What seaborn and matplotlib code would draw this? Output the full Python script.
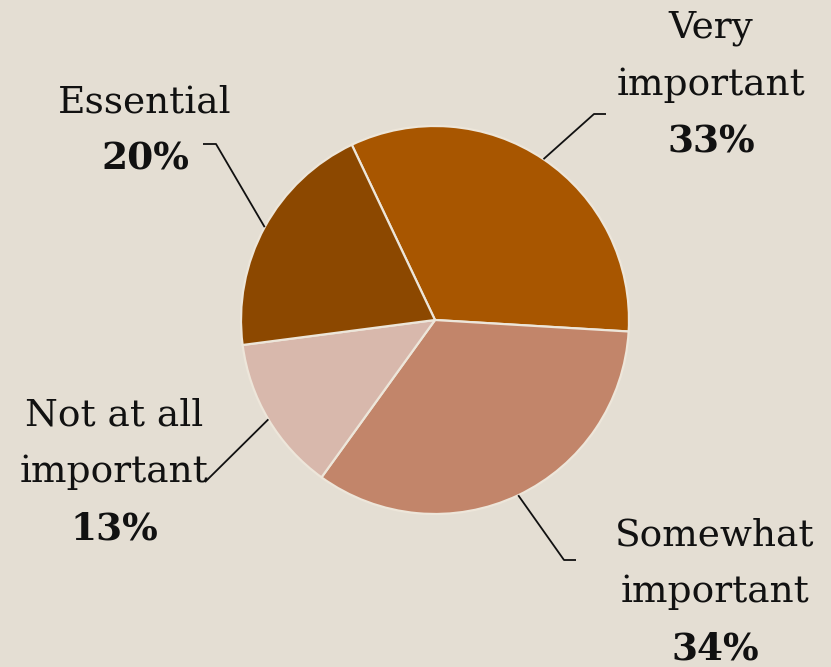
import numpy as np
import matplotlib
matplotlib.use("Agg")
import matplotlib.pyplot as plt
import seaborn as sns

# survey answers
categories = ["Very important", "Somewhat important", "Not at all important", "Essential"]
label_text = ["Very\nimportant", "Somewhat\nimportant", "Not at all\nimportant", "Essential"]
shares = [33, 34, 13, 20]
colors = ["#A85600", "#C2856A", "#D8B8AC", "#8C4800"]

bg = "#E4DED3"

sns.set_theme(style="white")
plt.rcParams["font.family"] = ["DejaVu Serif", "DejaVu Sans"]

fig = plt.figure(figsize=(8.31, 6.67), dpi=100)
fig.patch.set_facecolor(bg)
ax = fig.add_axes([0, 0, 1, 1])
ax.set_facecolor(bg)

# axes in pixel units, y pointing down
cx, cy, r = 435, 320, 194
wedges, _ = ax.pie(shares, colors=colors, center=(cx, cy), radius=r,
                   startangle=244.6, counterclock=True,
                   wedgeprops=dict(edgecolor="#EDE6DA", linewidth=1.6))
ax.set_xlim(0, 831)
ax.set_ylim(667, 0)
ax.set_aspect("equal")
ax.axis("off")

# leader line bends and label centres (pixels)
bends = [[(594, 114), (606, 114)],
         [(564, 560), (576, 560)],
         [(205, 482)],
         [(216, 144), (203, 144)]]
label_pos = [(711, 85), (715, 592), (114, 472), (145, 131)]

for w, pts, (tx, ty), txt, pct in zip(wedges, bends, label_pos, label_text, shares):
    mid = np.deg2rad((w.theta1 + w.theta2) / 2)
    x0 = cx + r * np.cos(mid)
    y0 = cy + r * np.sin(mid)
    xs = [x0] + [p[0] for p in pts]
    ys = [y0] + [p[1] for p in pts]
    ax.plot(xs, ys, color="#111111", lw=1.3, solid_capstyle="butt")
    lines = txt.split("\n")
    n = len(lines) + 1
    step = 57
    top = ty - step * n / 2
    for i, line in enumerate(lines):
        ax.text(tx, top + step * (i + 0.5), line, ha="center", va="center",
                fontsize=27, color="#111111")
    ax.text(tx, top + step * (n - 0.5), f"{pct}%", ha="center", va="center",
            fontsize=27, fontweight="bold", color="#111111")

fig.savefig("out.png", dpi=100, facecolor=bg)
